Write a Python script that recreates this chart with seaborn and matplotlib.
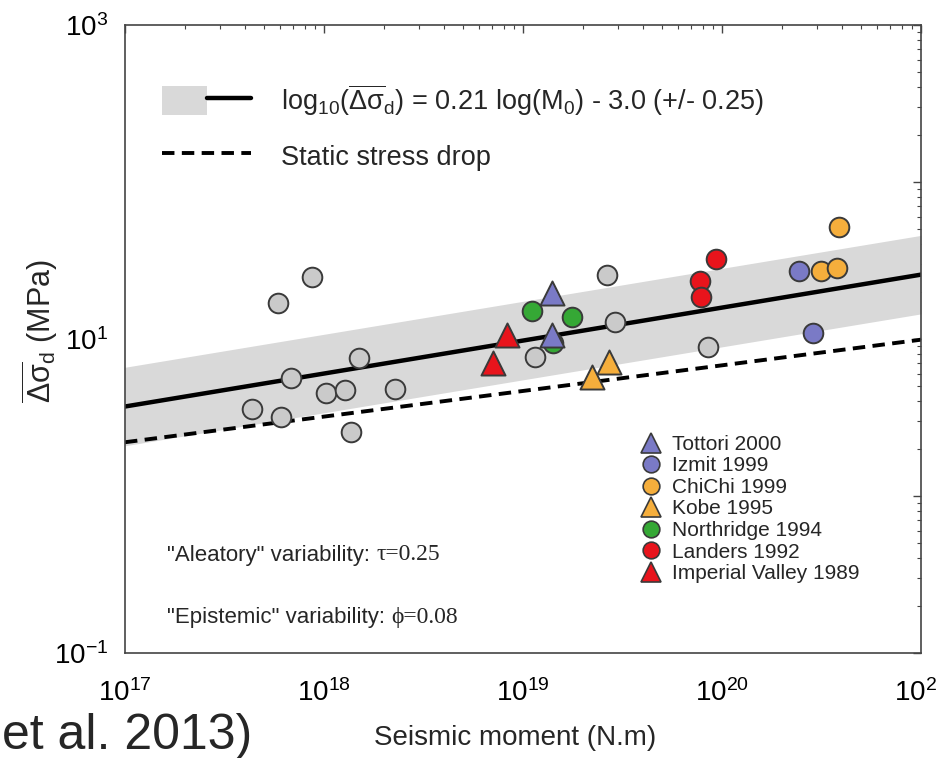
import numpy as np
import pandas as pd
import matplotlib
matplotlib.use("Agg")
import matplotlib.pyplot as plt
from matplotlib.lines import Line2D
from matplotlib.patches import Patch
from matplotlib.legend_handler import HandlerTuple
from matplotlib.ticker import LogLocator, NullFormatter
import seaborn as sns

sns.set_theme(style="white")
plt.rcParams["font.family"] = ["Liberation Sans", "DejaVu Sans"]
plt.rcParams["mathtext.fontset"] = "custom"
plt.rcParams["mathtext.rm"] = "Liberation Sans"
plt.rcParams["mathtext.it"] = "Liberation Sans:italic"
plt.rcParams["mathtext.bf"] = "Liberation Sans:bold"

# ---- data -------------------------------------------------------------
# other (unlabelled) events
other_m0 = [8.7e17, 5.9e17, 1.5e18, 6.8e17, 1.02e18, 1.28e18, 2.28e18,
            4.35e17, 6.1e17, 1.37e18, 1.15e19, 2.64e19, 2.9e19, 8.5e19]
other_sd = [24.8, 16.9, 7.6, 5.65, 4.5, 4.7, 4.8,
            3.6, 3.2, 2.55, 7.7, 25.6, 12.8, 8.9]

imperial_m0 = [8.3e18, 7.05e18]
imperial_sd = [10.6, 7.0]
landers_m0 = [9.3e19, 7.75e19, 7.8e19]
landers_sd = [32.4, 23.4, 18.5]
northridge_m0 = [1.11e19, 1.76e19, 1.42e19]
northridge_sd = [15.1, 13.8, 9.4]
kobe_m0 = [2.7e19, 2.22e19]
kobe_sd = [7.1, 5.7]
chichi_m0 = [3.87e20, 3.14e20, 3.78e20]
chichi_sd = [51.6, 27.1, 28.3]
izmit_m0 = [2.44e20, 2.86e20]
izmit_sd = [27.1, 10.9]
tottori_m0 = [1.4e19, 1.4e19]
tottori_sd = [19.6, 10.6]

# regression: log10(sd) = slope*log10(M0) + intercept, +/- sigma
reg_slope = 0.21
reg_intercept = -3.0
reg_sigma = 0.25

# static stress drop reference line
static_m0 = [1e17, 1e21]
static_sd = [2.2, 9.9]

xtick_values = [1e17, 1e18, 1e19, 1e20, 1e21]
xtick_labels = [r"$10^{17}$", r"$10^{18}$", r"$10^{19}$", r"$10^{20}$", r"$10^{21}$"]
ytick_values = [1e-1, 1e0, 1e1, 1e2, 1e3]
ytick_labels = [r"$10^{-1}$", "", r"$10^{1}$", "", r"$10^{3}$"]

events = [
    ("Imperial Valley 1989", imperial_m0, imperial_sd, "^", "#e8141c"),
    ("Landers 1992", landers_m0, landers_sd, "o", "#e8141c"),
    ("Northridge 1994", northridge_m0, northridge_sd, "o", "#35a835"),
    ("Kobe 1995", kobe_m0, kobe_sd, "^", "#f5ae3c"),
    ("ChiChi 1999", chichi_m0, chichi_sd, "o", "#f5ae3c"),
    ("Izmit 1999", izmit_m0, izmit_sd, "o", "#7a7ac6"),
    ("Tottori 2000", tottori_m0, tottori_sd, "^", "#7a7ac6"),
]
legend_order = ["Tottori 2000", "Izmit 1999", "ChiChi 1999", "Kobe 1995",
                "Northridge 1994", "Landers 1992", "Imperial Valley 1989"]

# ---- figure -----------------------------------------------------------
fig = plt.figure(figsize=(9.37, 7.58), dpi=100)
ax = fig.add_axes([125 / 937, 1 - 653 / 758, 796 / 937, 628 / 758])
ax.set_xscale("log")
ax.set_yscale("log")
ax.set_xlim(1e17, 1e21)
ax.set_ylim(1e-1, 1e3)

m = np.logspace(17, 21, 100)
fit = 10 ** (reg_slope * np.log10(m) + reg_intercept)
ax.fill_between(m, fit * 10 ** (-reg_sigma), fit * 10 ** reg_sigma,
                color="#d9d9d9", lw=0, zorder=1)
sns.lineplot(x=m, y=fit, color="black", lw=3.2, ax=ax, zorder=2)
sns.lineplot(x=static_m0, y=static_sd, color="black", lw=2.8, ax=ax, zorder=2,
             linestyle=(0, (3.2, 1.9)))

edge = "#3a3a3a"
sns.scatterplot(x=other_m0, y=other_sd, marker="o", s=200, color="#cacaca",
                edgecolor=edge, linewidth=1.4, ax=ax, zorder=3)
for name, xs, ys, mk, col in events:
    sns.scatterplot(x=xs, y=ys, marker=mk, s=300 if mk == "^" else 200,
                    color=col, edgecolor=edge, linewidth=1.4, ax=ax, zorder=4)

# ---- axes styling -----------------------------------------------------
ax.set_xticks(xtick_values, labels=xtick_labels)
ax.set_yticks(ytick_values, labels=ytick_labels)
ax.xaxis.set_minor_locator(LogLocator(base=10, subs=np.arange(2, 10), numticks=20))
ax.yaxis.set_minor_locator(LogLocator(base=10, subs=np.arange(2, 10), numticks=20))
ax.xaxis.set_minor_formatter(NullFormatter())
ax.yaxis.set_minor_formatter(NullFormatter())
ax.tick_params(which="both", direction="in", top=True, right=True,
               color="#444444", labelcolor="black")
ax.tick_params(which="major", length=6, width=1.0, labelsize=20)
ax.tick_params(which="minor", length=3, width=0.8)
ax.tick_params(axis="x", which="major", pad=19)
ax.tick_params(axis="y", which="major", pad=12)
for sp in ax.spines.values():
    sp.set_color("#444444")
    sp.set_linewidth(1.2)

ax.set_xlabel("Seismic moment (N.m)", fontsize=20)
ax.xaxis.set_label_coords(0.49, -0.115)
ax.set_ylabel(r"$\overline{\mathrm{Δσ}}_{\mathrm{d}}$ (MPa)", fontsize=22)
ax.yaxis.set_label_coords(-0.082, 0.513)

# ---- legends ----------------------------------------------------------
top_handles = [
    (Patch(facecolor="#d9d9d9", edgecolor="none"),
     Line2D([], [], color="black", lw=3.2)),
    Line2D([], [], color="black", lw=2.8, linestyle=(0, (3.2, 1.9))),
]
top_labels = [
    r"log$_{10}$($\overline{\mathrm{Δσ}}_{\mathrm{d}}$) = 0.21 log(M$_{0}$) - 3.0 (+/- 0.25)",
    "Static stress drop",
]
leg1 = ax.legend(top_handles, top_labels, handler_map={tuple: HandlerTuple(ndivide=None, pad=0)},
                 loc="upper left", bbox_to_anchor=((162 - 125) / 796, 1 - (82 - 25) / 628),
                 frameon=False, fontsize=19.5, handlelength=3.3, handleheight=1.3,
                 handletextpad=1.1, labelspacing=0.85, borderpad=0, borderaxespad=0)
ax.add_artist(leg1)

style = {name: (mk, col) for name, xs, ys, mk, col in events}
ev_handles = [Line2D([], [], marker=style[n][0], linestyle="none",
                     markersize=14 if style[n][0] == "^" else 12,
                     markerfacecolor=style[n][1], markeredgecolor=edge,
                     markeredgewidth=1.2) for n in legend_order]
ax.legend(ev_handles, legend_order, loc="upper left",
          bbox_to_anchor=((641 - 125) / 796, 1 - (435 - 25) / 628),
          frameon=False, fontsize=15, handlelength=1.0, handletextpad=0.5,
          labelspacing=0.12, borderpad=0, borderaxespad=0)

# ---- annotations ------------------------------------------------------
t1 = ax.text((167 - 125) / 796, 1 - (555 - 25) / 628, '"Aleatory" variability: ',
             transform=ax.transAxes, fontsize=16, va="center", ha="left")
ax.annotate("τ=0.25", xy=(1, 0), xycoords=t1, va="bottom", ha="left",
            fontsize=17, family=["Liberation Serif", "DejaVu Serif"])
t2 = ax.text((167 - 125) / 796, 1 - (617 - 25) / 628, '"Epistemic" variability: ',
             transform=ax.transAxes, fontsize=16, va="center", ha="left")
ax.annotate("ϕ=0.08", xy=(1, 0), xycoords=t2, va="bottom", ha="left",
            fontsize=17, family=["Liberation Serif", "DejaVu Serif"])

fig.text(252 / 937, 1 - 749 / 758, "et al. 2013)", fontsize=36,
         ha="right", va="baseline")

fig.savefig("out.png", dpi=100, facecolor="white")
